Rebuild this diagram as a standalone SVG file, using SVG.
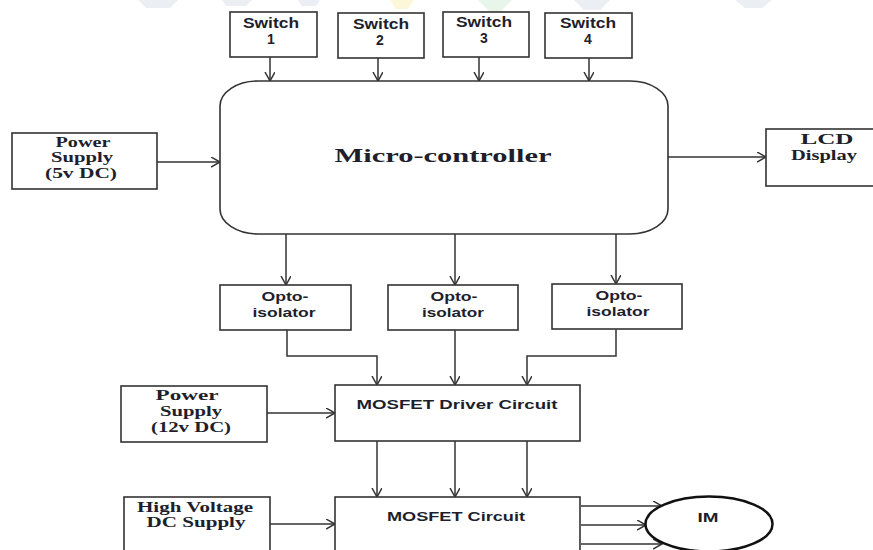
<svg xmlns="http://www.w3.org/2000/svg" width="873" height="550" viewBox="0 0 873 550">
<style>
.box{fill:#fff;stroke:#333;stroke-width:1.6}
.ln{fill:none;stroke:#333;stroke-width:1.5}
.sans{font-family:"Liberation Sans",Arial,sans-serif;font-weight:bold;font-size:14px;fill:#1e1e2c;text-anchor:middle}
.serif{font-family:"Liberation Serif","Times New Roman",serif;font-weight:bold;font-size:15px;fill:#1e1e2c;text-anchor:middle}
.wm{stroke:none}
</style>
<defs>
<marker id="arr" markerUnits="userSpaceOnUse" markerWidth="12" markerHeight="12" refX="9" refY="5" orient="auto">
<path d="M0,0 L9,5 L0,10" fill="none" stroke="#333" stroke-width="1.5"/>
</marker>
</defs>
<rect width="873" height="550" fill="#fff"/>
<g id="watermark" opacity="0.6">
<polygon class="wm" fill="#dfe5ec" points="138,0 178,0 170,8 146,8"/>
<polygon class="wm" fill="#dfe5ec" points="222,0 252,0 246,6 226,6"/>
<polygon class="wm" fill="#dfe5ec" points="298,0 320,0 316,6 302,6"/>
<polygon class="wm" fill="#fbf3c0" points="390,0 414,0 408,9 396,9"/>
<polygon class="wm" fill="#d9f0dd" points="478,0 512,0 500,12 490,12"/>
<polygon class="wm" fill="#dfe5ec" points="574,0 610,0 600,10 584,10"/>
<polygon class="wm" fill="#dfe5ec" points="735,0 772,0 762,8 745,8"/>
</g>
<g id="connectors">
<line class="ln" x1="270" y1="57" x2="270" y2="81" marker-end="url(#arr)"/>
<line class="ln" x1="378" y1="58" x2="378" y2="81" marker-end="url(#arr)"/>
<line class="ln" x1="479" y1="57" x2="479" y2="81" marker-end="url(#arr)"/>
<line class="ln" x1="589" y1="58" x2="589" y2="81" marker-end="url(#arr)"/>
<line class="ln" x1="157" y1="162" x2="220" y2="162" marker-end="url(#arr)"/>
<line class="ln" x1="668" y1="157" x2="766" y2="157" marker-end="url(#arr)"/>
<line class="ln" x1="286" y1="234" x2="286" y2="285" marker-end="url(#arr)"/>
<line class="ln" x1="455" y1="234" x2="455" y2="285" marker-end="url(#arr)"/>
<line class="ln" x1="616" y1="234" x2="616" y2="284" marker-end="url(#arr)"/>
<path class="ln" d="M287,330 V356 H377 V385" marker-end="url(#arr)"/>
<line class="ln" x1="455" y1="330" x2="455" y2="385" marker-end="url(#arr)"/>
<path class="ln" d="M616,329 V356 H527 V385" marker-end="url(#arr)"/>
<line class="ln" x1="267" y1="413" x2="335" y2="413" marker-end="url(#arr)"/>
<line class="ln" x1="377" y1="441" x2="377" y2="497" marker-end="url(#arr)"/>
<line class="ln" x1="455" y1="441" x2="455" y2="497" marker-end="url(#arr)"/>
<line class="ln" x1="527" y1="441" x2="527" y2="497" marker-end="url(#arr)"/>
<line class="ln" x1="270" y1="524" x2="335" y2="524" marker-end="url(#arr)"/>
<line class="ln" x1="581" y1="506" x2="662" y2="506" marker-end="url(#arr)"/>
<line class="ln" x1="581" y1="525" x2="646" y2="525" marker-end="url(#arr)"/>
<line class="ln" x1="581" y1="544" x2="662" y2="544" marker-end="url(#arr)"/>
</g>
<g id="switch1">
<rect class="box" x="230" y="12" width="87" height="45"/>
<text class="sans" x="271" y="28" textLength="56" lengthAdjust="spacingAndGlyphs">Switch</text>
<text class="sans" x="271" y="44">1</text>
</g>
<g id="switch2">
<rect class="box" x="338" y="13" width="86" height="45"/>
<text class="sans" x="381" y="29" textLength="56" lengthAdjust="spacingAndGlyphs">Switch</text>
<text class="sans" x="380" y="45">2</text>
</g>
<g id="switch3">
<rect class="box" x="443" y="12" width="86" height="45"/>
<text class="sans" x="484" y="27" textLength="56" lengthAdjust="spacingAndGlyphs">Switch</text>
<text class="sans" x="484" y="43">3</text>
</g>
<g id="switch4">
<rect class="box" x="545" y="13" width="87" height="45"/>
<text class="sans" x="588" y="28" textLength="56" lengthAdjust="spacingAndGlyphs">Switch</text>
<text class="sans" x="588" y="44">4</text>
</g>
<g id="microcontroller">
<rect class="box" x="220" y="81" width="448" height="153" rx="38" ry="25"/>
<text class="serif" x="443" y="162" style="font-size:19px" textLength="217" lengthAdjust="spacingAndGlyphs">Micro-controller</text>
</g>
<g id="power5">
<rect class="box" x="12" y="133" width="145" height="56"/>
<text class="serif" x="83" y="147" textLength="55" lengthAdjust="spacingAndGlyphs">Power</text>
<text class="serif" x="82" y="162" textLength="62" lengthAdjust="spacingAndGlyphs">Supply</text>
<text class="serif" x="81" y="178" textLength="72" lengthAdjust="spacingAndGlyphs">(5v DC)</text>
</g>
<g id="lcd">
<rect class="box" x="766" y="129" width="120" height="57"/>
<text class="serif" x="827" y="144" textLength="53" lengthAdjust="spacingAndGlyphs">LCD</text>
<text class="serif" x="824" y="160" textLength="66" lengthAdjust="spacingAndGlyphs">Display</text>
</g>
<g id="opto1">
<rect class="box" x="220" y="285" width="131" height="45"/>
<text class="sans" x="285" y="301" style="font-size:13px" textLength="47" lengthAdjust="spacingAndGlyphs">Opto-</text>
<text class="sans" x="284" y="317" style="font-size:13px" textLength="63" lengthAdjust="spacingAndGlyphs">isolator</text>
</g>
<g id="opto2">
<rect class="box" x="388" y="285" width="130" height="45"/>
<text class="sans" x="454" y="301" style="font-size:13px" textLength="47" lengthAdjust="spacingAndGlyphs">Opto-</text>
<text class="sans" x="453" y="317" style="font-size:13px" textLength="62" lengthAdjust="spacingAndGlyphs">isolator</text>
</g>
<g id="opto3">
<rect class="box" x="552" y="284" width="130" height="45"/>
<text class="sans" x="619" y="300" style="font-size:13px" textLength="47" lengthAdjust="spacingAndGlyphs">Opto-</text>
<text class="sans" x="618" y="316" style="font-size:13px" textLength="63" lengthAdjust="spacingAndGlyphs">isolator</text>
</g>
<g id="power12">
<rect class="box" x="121" y="386" width="146" height="56"/>
<text class="serif" x="187" y="400" textLength="63" lengthAdjust="spacingAndGlyphs">Power</text>
<text class="serif" x="191" y="416" textLength="62" lengthAdjust="spacingAndGlyphs">Supply</text>
<text class="serif" x="191" y="432" textLength="80" lengthAdjust="spacingAndGlyphs">(12v DC)</text>
</g>
<g id="driver">
<rect class="box" x="335" y="385" width="245" height="56"/>
<text class="sans" x="457" y="409" style="font-size:13px" textLength="201" lengthAdjust="spacingAndGlyphs">MOSFET Driver Circuit</text>
</g>
<g id="hvdc">
<rect class="box" x="124" y="497" width="146" height="70"/>
<text class="serif" x="195" y="512" textLength="116" lengthAdjust="spacingAndGlyphs">High Voltage</text>
<text class="serif" x="196" y="527" textLength="99" lengthAdjust="spacingAndGlyphs">DC Supply</text>
</g>
<g id="mosfet">
<rect class="box" x="335" y="497" width="245" height="70"/>
<text class="sans" x="456" y="521" style="font-size:13px" textLength="138" lengthAdjust="spacingAndGlyphs">MOSFET Circuit</text>
</g>
<g id="im">
<ellipse cx="709" cy="524" rx="63.5" ry="27.5" fill="#fff" stroke="#111" stroke-width="2.5"/>
<text class="sans" x="708" y="522" style="font-size:12px" textLength="21" lengthAdjust="spacingAndGlyphs">IM</text>
</g>
</svg>
